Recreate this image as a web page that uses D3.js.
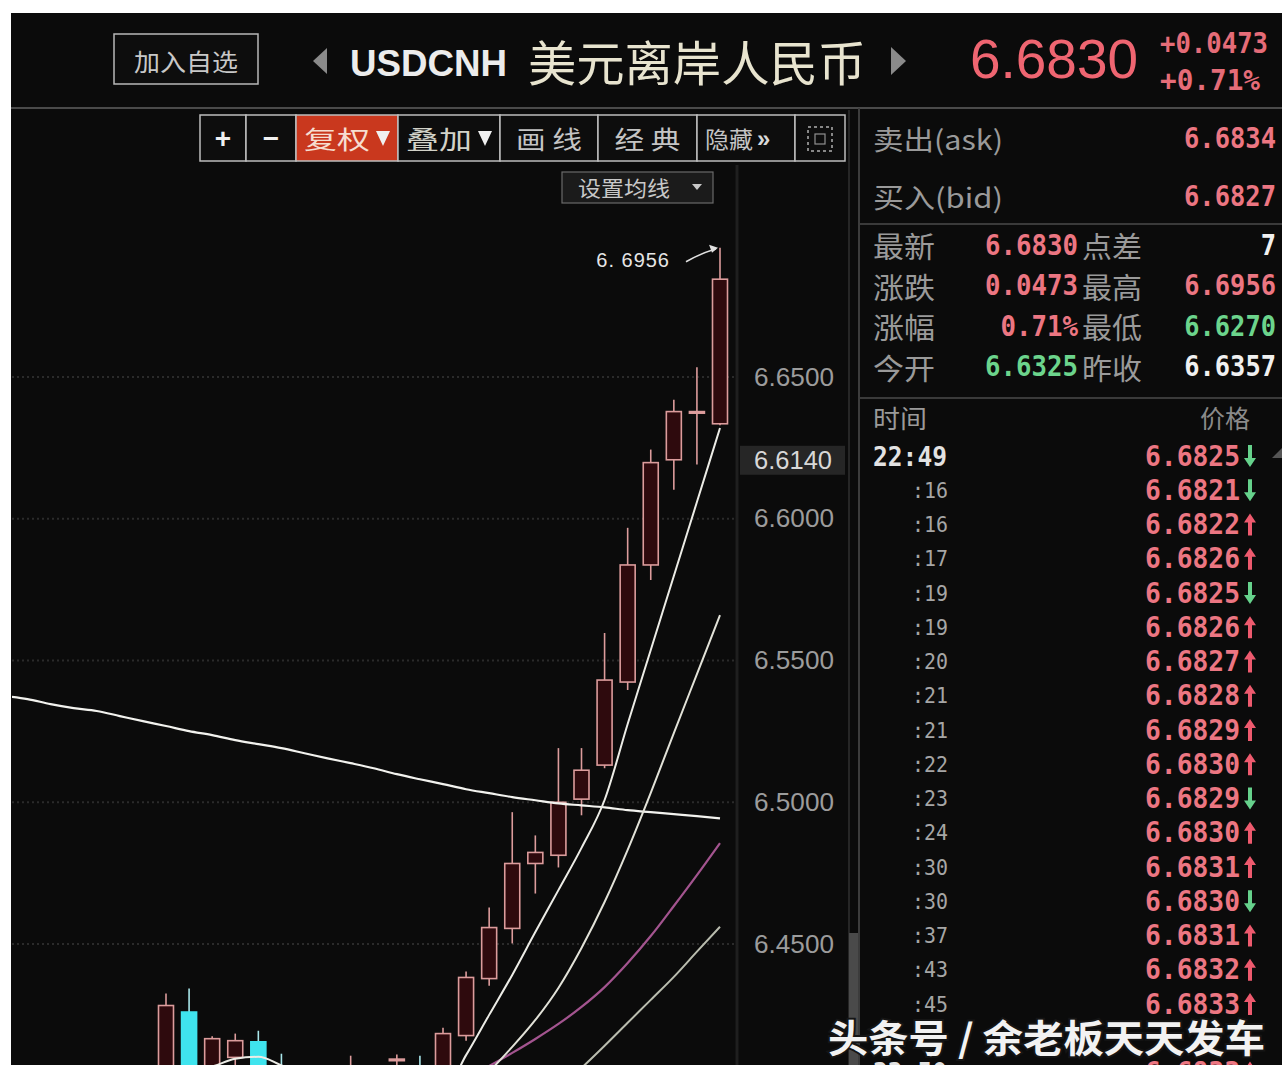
<!DOCTYPE html>
<html><head><meta charset="utf-8">
<script src="https://cdn.jsdelivr.net/npm/d3@7/dist/d3.min.js"></script>
<style>
html,body{margin:0;padding:0;background:#fff;overflow:hidden}
svg{display:block}
</style></head><body>
<svg id="c" width="1282" height="1065"></svg>
<script>
// ---------------- DATA ----------------
const candleIdx = d3.range(-7, 25);
const opens  = [6.3850,6.3880,6.3860,6.3890,6.3910,6.3880,6.3920,
  6.3990,6.4260,6.4020,6.4100,6.4155,6.4040,6.3990,6.4010,6.3970,6.4040,6.4090,6.4070,6.4010,6.4177,6.4378,6.4555,6.4784,6.4813,6.5011,6.5131,6.5424,6.5837,6.6208,6.6374,6.6335];
const highs  = [6.3900,6.3920,6.3910,6.3930,6.3940,6.3930,6.3940,
  6.4325,6.4343,6.4175,6.4184,6.4194,6.4113,6.4050,6.4060,6.4106,6.4070,6.4110,6.4106,6.4205,6.4403,6.4629,6.4965,6.4883,6.5191,6.5191,6.5597,6.5968,6.6244,6.6420,6.6534,6.6956];
const lows   = [6.3800,6.3830,6.3820,6.3850,6.3860,6.3840,6.3870,
  6.3950,6.3980,6.3990,6.4060,6.3990,6.3960,6.3940,6.3950,6.3950,6.3990,6.4030,6.3990,6.3990,6.4159,6.4353,6.4502,6.4678,6.4770,6.4954,6.5120,6.5396,6.5784,6.6102,6.6191,6.6330];
const closes = [6.3880,6.3860,6.3890,6.3910,6.3880,6.3920,6.3900,
  6.4283,6.4010,6.4166,6.4159,6.4020,6.3990,6.4010,6.3970,6.4040,6.4020,6.4094,6.4010,6.4184,6.4382,6.4558,6.4784,6.4823,6.5000,6.5113,6.5431,6.5837,6.6198,6.6378,6.6378,6.6845];

const maLong = [6.5375,6.5364,6.5346,6.5332,6.5322,6.5304,6.5286,
  6.5269,6.5251,6.5237,6.5219,6.5205,6.5191,6.5173,6.5155,6.5138,6.5120,6.5099,6.5081,6.5064,6.5046,6.5032,6.5018,6.5007,6.4996,6.4989,6.4982,6.4972,6.4965,6.4958,6.4951,6.4943];
const ma5  = [null,null,null,null,null,null,null,
  6.4030,6.4050,6.4068,6.4095,6.4102,6.4072,6.4040,6.4010,6.3995,6.3990,6.3995,6.3995,6.3978,6.4108,6.4250,6.4391,6.4542,6.4690,6.4839,6.5008,6.5276,6.5537,6.5798,6.6059,6.6320];
const ma10 = [null,null,null,null,null,null,null,
  null,null,null,null,null,null,null,null,null,null,null,null,6.3960,6.3995,6.4052,6.4137,6.4232,6.4345,6.4486,6.4648,6.4832,6.5033,6.5244,6.5452,6.5660];
const ma20 = [null,null,null,null,null,null,null,
  null,null,null,null,null,null,null,null,null,null,null,null,6.3985,6.4027,6.4070,6.4116,6.4165,6.4218,6.4278,6.4348,6.4433,6.4528,6.4634,6.4743,6.4856];
const ma30 = [null,null,null,null,null,null,null,
  null,null,null,null,null,null,null,null,null,null,null,null,null,null,null,null,null,6.3993,6.4063,6.4141,6.4222,6.4303,6.4384,6.4473,6.4561];

const yTicks = [6.6500, 6.6000, 6.5500, 6.5000, 6.4500];
const markerLabel = "6.6140";
const markerLevel = 6.6208;

const symbol = "USDCNH";
const symbolName = "美元离岸人民币";
const lastPrice = "6.6830";
const change = "+0.0473";
const changePct = "+0.71%";

const toolbarLabels = ["+", "−", "复权", "叠加", "画 线", "经 典", "隐藏", ""];
const toolbarWidths = [46, 50, 102, 102, 98, 99, 98, 50];

const quoteLabels = ["卖出(ask)", "买入(bid)"];
const quoteValues = ["6.6834", "6.6827"];
const statLabelsA = ["最新", "涨跌", "涨幅", "今开"];
const statValuesA = ["6.6830", "0.0473", "0.71%", "6.6325"];
const statDirA    = ["up", "up", "up", "down"];
const statLabelsB = ["点差", "最高", "最低", "昨收"];
const statValuesB = ["7", "6.6956", "6.6270", "6.6357"];
const statDirB    = ["flat", "up", "down", "flat"];

const tickTimes  = ["22:49",":16",":16",":17",":19",":19",":20",":21",":21",":22",":23",":24",":30",":30",":37",":43",":45","22:50"];
const tickPrices = ["6.6825","6.6821","6.6822","6.6826","6.6825","6.6826","6.6827","6.6828","6.6829","6.6830","6.6829","6.6830","6.6831","6.6830","6.6831","6.6832","6.6833","6.6833"];
const tickDirs   = ["down","down","up","up","down","up","up","up","up","up","down","up","up","down","up","up","up","up"];
const tickSlots  = [0,1,2,3,4,5,6,7,8,9,10,11,12,13,14,15,16,18];

const watermark = "头条号 / 余老板天天发车";

// ---------------- DRAW ----------------
const CJK = "'Noto Sans CJK SC', 'Noto Sans', sans-serif";
const SANS = "'Liberation Sans', Arial, sans-serif";
const MONO = "'DejaVu Sans Mono', 'Liberation Mono', monospace";
const colUp = "#ec7682", colDown = "#6cd48c", colFlat = "#f0f0f0";
const dirColor = d => d === "up" ? colUp : d === "down" ? colDown : colFlat;

const svg = d3.select("#c");
svg.append("rect").attr("x", 11).attr("y", 13).attr("width", 1271).attr("height", 1052).attr("fill", "#0b0b0b");

// ---------- header ----------
const hdr = svg.append("g");
hdr.append("rect").attr("x", 114).attr("y", 34).attr("width", 144).attr("height", 50)
  .attr("fill", "#0d0d0d").attr("stroke", "#b8b8b8").attr("stroke-width", 1.5);
hdr.append("text").attr("x", 186).attr("y", 60).attr("text-anchor", "middle").attr("dominant-baseline", "central")
  .attr("font-family", CJK).attr("font-size", 24).attr("fill", "#c8c8c8").attr("textLength", 104).attr("lengthAdjust", "spacingAndGlyphs").text("加入自选");
hdr.append("path").attr("d", "M327,48 L313,61 L327,74 Z").attr("fill", "#8a8a8a");
hdr.append("text").attr("x", 350).attr("y", 76).attr("font-family", SANS).attr("font-weight", 700)
  .attr("font-size", 36).attr("fill", "#ececec").attr("textLength", 157).attr("lengthAdjust", "spacingAndGlyphs").text(symbol);
hdr.append("text").attr("x", 528).attr("y", 60).attr("dominant-baseline", "central").attr("font-family", CJK)
  .attr("font-size", 48).attr("fill", "#e8e4cf").attr("textLength", 338).attr("lengthAdjust", "spacingAndGlyphs").text(symbolName);
hdr.append("path").attr("d", "M891,47 L906,61 L891,75 Z").attr("fill", "#8a8a8a");
hdr.append("text").attr("x", 970).attr("y", 78).attr("font-family", SANS).attr("font-size", 56)
  .attr("fill", "#ef6571").attr("textLength", 168).attr("lengthAdjust", "spacingAndGlyphs").text(lastPrice);
hdr.append("text").attr("x", 1160).attr("y", 53).attr("font-family", MONO).attr("font-weight", 700).attr("font-size", 28)
  .attr("fill", "#e56c78").attr("textLength", 108).attr("lengthAdjust", "spacingAndGlyphs").text(change);
hdr.append("text").attr("x", 1160).attr("y", 90).attr("font-family", MONO).attr("font-weight", 700).attr("font-size", 28)
  .attr("fill", "#e56c78").attr("textLength", 100).attr("lengthAdjust", "spacingAndGlyphs").text(changePct);

// separators
svg.append("line").attr("x1", 11).attr("x2", 1282).attr("y1", 108).attr("y2", 108).attr("stroke", "#4a4a4a").attr("stroke-width", 2);

// ---------- chart ----------
const x = d3.scaleLinear().domain([0, 24]).range([166, 720]);
const y = d3.scaleLinear().domain([6.45, 6.65]).range([944, 377]);

svg.append("defs").append("clipPath").attr("id", "plot")
  .append("rect").attr("x", 12).attr("y", 110).attr("width", 724).attr("height", 960);

const plot = svg.append("g").attr("clip-path", "url(#plot)");

plot.selectAll("line.grid").data(yTicks).join("line").attr("class", "grid")
  .attr("x1", 12).attr("x2", 736).attr("y1", d => y(d)).attr("y2", d => y(d))
  .attr("stroke", "#2b2b2b").attr("stroke-width", 2).attr("stroke-dasharray", "2,3");

const candles = candleIdx.map((i, k) => ({ i, o: opens[k], h: highs[k], l: lows[k], c: closes[k] }));
const upStroke = "#dc9c9c", upFill = "#2e0a0d", dnFill = "#3fe4ee";
const cg = plot.append("g");
cg.selectAll("line.wick").data(candles).join("line").attr("class", "wick")
  .attr("x1", d => x(d.i)).attr("x2", d => x(d.i)).attr("y1", d => y(d.h)).attr("y2", d => y(d.l))
  .attr("stroke", d => d.c >= d.o ? upStroke : "#a8e6ea").attr("stroke-width", 1.6);
cg.selectAll("rect.body").data(candles).join("rect").attr("class", "body")
  .attr("x", d => x(d.i) - 7.5).attr("width", 15)
  .attr("y", d => y(Math.max(d.o, d.c)))
  .attr("height", d => Math.max(1.6, Math.abs(y(d.o) - y(d.c))))
  .attr("fill", d => d.c >= d.o ? upFill : dnFill)
  .attr("stroke", d => d.c >= d.o ? upStroke : dnFill).attr("stroke-width", 1.6);

const maSeries = [
  { v: maLong, color: "#f2f2ee", w: 2.2 },
  { v: ma30, color: "#b9bcae", w: 2 },
  { v: ma20, color: "#a3548f", w: 2.2 },
  { v: ma10, color: "#e2e2d8", w: 2 },
  { v: ma5, color: "#ecece6", w: 2 }
];
const line = d3.line().defined(d => d.v != null).x(d => x(d.i)).y(d => y(d.v)).curve(d3.curveMonotoneX);
plot.selectAll("path.ma").data(maSeries).join("path").attr("class", "ma")
  .attr("d", s => line(candleIdx.map((i, k) => ({ i, v: s.v[k] }))))
  .attr("fill", "none").attr("stroke", s => s.color).attr("stroke-width", s => s.w);

// high annotation
const hiIdx = d3.maxIndex(highs);
const hx = x(candleIdx[hiIdx]), hy = y(highs[hiIdx]);
plot.append("path").attr("d", `M${hx - 34},${hy + 14} Q${hx - 20},${hy + 6} ${hx - 4},${hy + 1}`)
  .attr("fill", "none").attr("stroke", "#e0e0e0").attr("stroke-width", 1.5);
plot.append("path").attr("d", `M${hx - 2},${hy} L${hx - 11},${hy - 3} L${hx - 8},${hy + 5} Z`).attr("fill", "#e0e0e0");
plot.append("text").attr("x", hx - 50).attr("y", hy + 12).attr("text-anchor", "end").attr("dominant-baseline", "central")
  .attr("font-family", SANS).attr("font-size", 20).attr("fill", "#e6e6e6").attr("letter-spacing", 1)
  .text(d3.format(".4f")(highs[hiIdx]).replace(".", ". "));

// axis separators
svg.append("line").attr("x1", 737).attr("x2", 737).attr("y1", 165).attr("y2", 1065).attr("stroke", "#1f1f1f").attr("stroke-width", 3);
svg.append("line").attr("x1", 849).attr("x2", 849).attr("y1", 110).attr("y2", 1065).attr("stroke", "#262626").attr("stroke-width", 2);
svg.append("line").attr("x1", 859).attr("x2", 859).attr("y1", 108).attr("y2", 1065).attr("stroke", "#3c3c3c").attr("stroke-width", 2);
svg.append("rect").attr("x", 849).attr("y", 933).attr("width", 9).attr("height", 140).attr("fill", "#4a4a4a");

// y axis
svg.append("rect").attr("x", 740).attr("y", y(markerLevel) - 14).attr("width", 105).attr("height", 29).attr("fill", "#262626");
const yAxis = d3.axisRight(y).tickValues(yTicks).tickFormat(d3.format(".4f")).tickSize(0).tickPadding(0);
const ag = svg.append("g").attr("transform", "translate(754,0)").call(yAxis);
ag.select(".domain").remove();
ag.selectAll("text").attr("font-family", SANS).attr("font-size", 25).attr("fill", "#9c9c9c")
  .attr("textLength", 80).attr("lengthAdjust", "spacingAndGlyphs");
svg.append("text").attr("x", 754).attr("y", y(markerLevel)).attr("dominant-baseline", "central")
  .attr("font-family", SANS).attr("font-size", 25).attr("fill", "#d8d8d8").attr("textLength", 78).attr("lengthAdjust", "spacingAndGlyphs").text(markerLabel);

// ---------- toolbar ----------
const tb = svg.append("g");
let tx = 200;
toolbarLabels.forEach((lab, k) => {
  const w = toolbarWidths[k];
  const g = tb.append("g");
  g.append("rect").attr("x", tx).attr("y", 115).attr("width", w).attr("height", 46)
    .attr("fill", k === 2 ? "#c9381e" : "#0d0d0d").attr("stroke", "#bdbdbd").attr("stroke-width", 1.5);
  const cx = tx + w / 2;
  if (k === 0 || k === 1) {
    g.append("text").attr("x", cx).attr("y", 138).attr("text-anchor", "middle").attr("dominant-baseline", "central")
      .attr("font-family", SANS).attr("font-weight", 700).attr("font-size", 28).attr("fill", "#f0f0f0").text(lab);
  } else if (k === 2 || k === 3) {
    g.append("text").attr("x", tx + 8).attr("y", 138).attr("dominant-baseline", "central")
      .attr("font-family", CJK).attr("font-size", 25).attr("fill", k === 2 ? "#f6ddd0" : "#d2d2c8")
      .attr("textLength", 66).attr("lengthAdjust", "spacingAndGlyphs").text(lab);
    g.append("path").attr("d", `M${tx + w - 22},131 L${tx + w - 8},131 L${tx + w - 15},146 Z`).attr("fill", "#f0f0f0");
  } else if (k === 4 || k === 5) {
    g.append("text").attr("x", cx).attr("y", 138).attr("text-anchor", "middle").attr("dominant-baseline", "central")
      .attr("font-family", CJK).attr("font-size", 25).attr("fill", "#c4c4c4").attr("textLength", 66).attr("lengthAdjust", "spacingAndGlyphs").text(lab);
  } else if (k === 6) {
    g.append("text").attr("x", tx + 8).attr("y", 138).attr("dominant-baseline", "central")
      .attr("font-family", CJK).attr("font-size", 23).attr("fill", "#c4c4c4").attr("textLength", 48).attr("lengthAdjust", "spacingAndGlyphs").text(lab);
    g.append("text").attr("x", tx + 60).attr("y", 138).attr("dominant-baseline", "central")
      .attr("font-family", SANS).attr("font-weight", 700).attr("font-size", 24).attr("fill", "#d8d8d8").text("»");
  } else {
    const ix = tx + 13, iy = 127, s = 24;
    g.append("rect").attr("x", ix).attr("y", iy).attr("width", s).attr("height", s).attr("fill", "none")
      .attr("stroke", "#b0b0b0").attr("stroke-width", 1.5).attr("stroke-dasharray", "3,3");
    g.append("rect").attr("x", ix + 7).attr("y", iy + 7).attr("width", s - 14).attr("height", s - 14).attr("fill", "none")
      .attr("stroke", "#909090").attr("stroke-width", 1.2);
  }
  tx += w;
});
// MA settings button
svg.append("rect").attr("x", 562).attr("y", 172).attr("width", 151).attr("height", 31).attr("fill", "#1b1b1b").attr("stroke", "#6a6a6a").attr("stroke-width", 1.2);
svg.append("text").attr("x", 578).attr("y", 187).attr("dominant-baseline", "central").attr("font-family", CJK).attr("font-size", 21)
  .attr("fill", "#c8c8c8").attr("textLength", 92).attr("lengthAdjust", "spacingAndGlyphs").text("设置均线");
svg.append("path").attr("d", "M692,184 L702,184 L697,190 Z").attr("fill", "#c8c8c8");

// ---------- right panel ----------
const rp = svg.append("g");
const rowTxt = (xx, yy, t, opts) => {
  const e = rp.append("text").attr("x", xx).attr("y", yy).attr("dominant-baseline", "central")
    .attr("font-family", opts.font).attr("font-size", opts.size).attr("fill", opts.fill)
    .attr("text-anchor", opts.anchor || "start").text(t);
  if (opts.weight) e.attr("font-weight", opts.weight);
  if (opts.len) e.attr("textLength", opts.len).attr("lengthAdjust", "spacingAndGlyphs");
  return e;
};
quoteLabels.forEach((lab, k) => {
  const yy = 138 + k * 58;
  rowTxt(873, yy, lab, { font: CJK, size: 27, fill: "#9a9a9a", len: 130 });
  rowTxt(1276, yy, quoteValues[k], { font: MONO, size: 28, fill: colUp, weight: 700, anchor: "end", len: 92 });
});
rp.append("line").attr("x1", 860).attr("x2", 1282).attr("y1", 224).attr("y2", 224).attr("stroke", "#3a3a3a").attr("stroke-width", 2);
statLabelsA.forEach((lab, k) => {
  const yy = 245 + k * 40.5;
  rowTxt(873, yy, lab, { font: CJK, size: 29, fill: "#9a9a9a", len: 62 });
  const v = statValuesA[k];
  rowTxt(1078, yy, v, { font: MONO, size: 28, fill: dirColor(statDirA[k]), weight: 700, anchor: "end", len: v.length * 15.5 });
  rowTxt(1082, yy, statLabelsB[k], { font: CJK, size: 29, fill: "#9a9a9a", len: 60 });
  const v2 = statValuesB[k];
  rowTxt(1276, yy, v2, { font: MONO, size: 28, fill: dirColor(statDirB[k]), weight: 700, anchor: "end", len: v2.length * 15.3 });
});
rp.append("line").attr("x1", 860).attr("x2", 1282).attr("y1", 398).attr("y2", 398).attr("stroke", "#3a3a3a").attr("stroke-width", 2);
rowTxt(873, 417, "时间", { font: CJK, size: 25, fill: "#9a9a9a", len: 54 });
rowTxt(1250, 417, "价格", { font: CJK, size: 25, fill: "#8a8a8a", anchor: "end", len: 50 });

tickTimes.forEach((t, k) => {
  const yy = 456 + tickSlots[k] * 34.25;
  if (t.length > 3) rowTxt(873, yy, t, { font: MONO, size: 27, fill: "#e2e2e2", weight: 700, len: 74 });
  else rowTxt(948, yy, t, { font: MONO, size: 22, fill: "#a6a6a6", anchor: "end", len: 36 });
  rowTxt(1240, yy, tickPrices[k], { font: MONO, size: 28, fill: colUp, weight: 700, anchor: "end", len: 95 });
  const up = tickDirs[k] === "up";
  const ac = up ? "#ee5a6e" : "#66d28c";
  const ax = 1250;
  if (up) {
    rp.append("path").attr("d", `M${ax},${yy - 11} L${ax + 6},${yy - 2} L${ax + 2},${yy - 2} L${ax + 2},${yy + 11} L${ax - 2},${yy + 11} L${ax - 2},${yy - 2} L${ax - 6},${yy - 2} Z`).attr("fill", ac);
  } else {
    rp.append("path").attr("d", `M${ax},${yy + 11} L${ax + 6},${yy + 2} L${ax + 2},${yy + 2} L${ax + 2},${yy - 11} L${ax - 2},${yy - 11} L${ax - 2},${yy + 2} L${ax - 6},${yy + 2} Z`).attr("fill", ac);
  }
});
// small scroll arrow
rp.append("path").attr("d", "M1272,458 L1282,448 L1282,458 Z").attr("fill", "#555");

// ---------- watermark ----------
svg.append("text").attr("x", 828).attr("y", 1035).attr("dominant-baseline", "central")
  .attr("font-family", CJK).attr("font-weight", 700).attr("font-size", 38)
  .attr("fill", "#f2f2f2").attr("stroke", "#151515").attr("stroke-width", 4).attr("paint-order", "stroke")
  .attr("textLength", 437).attr("lengthAdjust", "spacingAndGlyphs").text(watermark);
</script>
</body></html>
